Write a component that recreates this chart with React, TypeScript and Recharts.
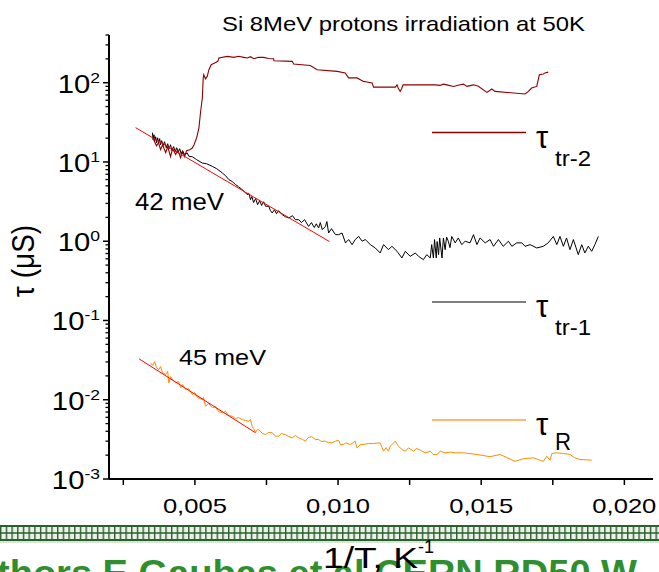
import React from 'react';
import { LineChart, Line, XAxis, YAxis } from 'recharts';

type Pair = [number, number];

// tau_tr-2 (dark red)
const tauTr2: Pair[] = [
  [0.00356, 19.1], [0.00366, 16.0], [0.00373, 17.5], [0.0038, 14.3], [0.00387, 16.5], [0.00398, 13.1],
  [0.00405, 15.6], [0.00415, 11.7], [0.00422, 14.7], [0.00433, 12.4], [0.0044, 14.3], [0.0045, 11.3],
  [0.00457, 13.5], [0.00464, 11.7], [0.00471, 13.9], [0.00482, 14.3], [0.00491, 15.0], [0.00497, 16.5],
  [0.00506, 20.1], [0.00514, 26.8], [0.0052, 43.4], [0.00526, 64.1], [0.00529, 114.6], [0.00531, 126],
  [0.00537, 112], [0.00543, 120], [0.00549, 146], [0.00557, 169], [0.00569, 177], [0.0058, 186],
  [0.00584, 205], [0.00613, 215], [0.00636, 209], [0.00652, 216], [0.00671, 209], [0.00683, 205],
  [0.00694, 213], [0.00706, 201], [0.00722, 210], [0.00741, 209], [0.00757, 202], [0.00775, 201],
  [0.00776, 189], [0.0084, 186], [0.00845, 172], [0.00903, 165], [0.00927, 146], [0.00997, 139],
  [0.01025, 133], [0.01037, 115], [0.01066, 115], [0.01089, 104], [0.01101, 102], [0.01119, 99],
  [0.01124, 88], [0.012, 88], [0.01206, 94], [0.0121, 86], [0.01217, 77.7], [0.01222, 84], [0.01227, 94],
  [0.01339, 94], [0.01357, 92.5], [0.01367, 95.8], [0.0138, 94], [0.01403, 89.8], [0.01419, 93],
  [0.01438, 96], [0.0145, 90], [0.01473, 94], [0.0149, 90], [0.0152, 75.5], [0.01537, 83.3],
  [0.01548, 77.7], [0.01653, 72.0], [0.01665, 77.7], [0.01676, 85.7], [0.01694, 89.8], [0.01703, 126],
  [0.01717, 129], [0.01723, 133], [0.01734, 136],
];

// tau_tr-1 (black)
const tauTr1: Pair[] = [
  [0.003515, 23.4], [0.00354, 19.1], [0.00357, 22.1], [0.0036, 18.6], [0.00363, 20.8], [0.00366, 17.5],
  [0.0037, 20.2], [0.00373, 17.0], [0.00377, 19.7], [0.0038, 16.5], [0.00384, 18.6], [0.00389, 16.1],
  [0.00394, 18.0], [0.004, 15.1], [0.00405, 17.0], [0.0041, 14.7], [0.00415, 16.5], [0.0042, 13.9],
  [0.00426, 15.6], [0.00431, 13.5], [0.00436, 15.1], [0.00441, 13.1], [0.00447, 14.7], [0.00452, 12.7],
  [0.00457, 13.9], [0.00464, 12.4], [0.00473, 13.0], [0.00479, 11.8], [0.00492, 11.6], [0.00506, 10.7],
  [0.00526, 9.7], [0.00541, 9.5], [0.00561, 8.79], [0.00576, 8.23], [0.00596, 7.26], [0.00607, 6.71],
  [0.00619, 5.98], [0.00631, 5.65], [0.00642, 5.18], [0.00652, 4.88], [0.00665, 4.48], [0.00673, 4.22],
  [0.00683, 3.87], [0.00689, 4.0], [0.00694, 3.35], [0.00699, 3.65], [0.00705, 3.07], [0.00712, 3.46],
  [0.00719, 2.89], [0.00726, 3.25], [0.00733, 2.83], [0.0074, 3.15], [0.00747, 2.76], [0.00758, 2.76],
  [0.00764, 2.43], [0.0077, 2.27], [0.00778, 2.5], [0.00785, 2.22], [0.00792, 2.43], [0.00805, 2.16],
  [0.00816, 2.04], [0.00828, 1.97], [0.00841, 2.1], [0.00851, 1.87], [0.00863, 1.87], [0.00872, 1.72],
  [0.00883, 1.87], [0.00897, 1.54], [0.00907, 1.72], [0.00917, 1.49], [0.00924, 1.66], [0.00932, 1.47],
  [0.00938, 1.72], [0.00945, 1.4], [0.00956, 1.54], [0.00961, 1.77], [0.00967, 1.27], [0.00977, 1.44],
  [0.00991, 1.21], [0.01002, 1.21], [0.01014, 1.27], [0.01026, 0.953], [0.01037, 1.05], [0.01049, 0.906],
  [0.0106, 1.05], [0.01072, 1.15], [0.01084, 1.0], [0.01095, 1.05], [0.01113, 0.906], [0.0113, 0.822],
  [0.01147, 0.711], [0.01159, 0.906], [0.01176, 0.783], [0.01188, 0.863], [0.01206, 0.746], [0.01223, 0.615],
  [0.01235, 0.746], [0.01252, 0.645], [0.0127, 0.711], [0.01281, 0.645], [0.01298, 0.586], [0.0131, 0.677],
  [0.01322, 0.615], [0.01327, 0.906], [0.01333, 0.615], [0.01337, 1.05], [0.01343, 0.615], [0.01346, 0.99],
  [0.01351, 0.677], [0.01355, 1.1], [0.01363, 0.615], [0.01368, 1.1], [0.01374, 0.783], [0.01379, 1.13],
  [0.01385, 1.0], [0.01391, 0.83], [0.01397, 1.15], [0.01409, 0.953], [0.0142, 1.1], [0.01432, 0.906],
  [0.01444, 1.0], [0.01461, 0.953], [0.01473, 1.21], [0.01485, 0.906], [0.01496, 1.1], [0.01514, 0.953],
  [0.01531, 1.05], [0.01543, 0.863], [0.0156, 1.05], [0.01577, 0.863], [0.01595, 1.0], [0.01607, 0.863],
  [0.01624, 0.953], [0.01642, 0.953], [0.01653, 0.863], [0.01671, 0.906], [0.01694, 0.822], [0.01717, 0.863],
  [0.01734, 0.953], [0.01752, 1.15], [0.01764, 0.906], [0.01775, 1.15], [0.01787, 0.863], [0.01798, 1.1],
  [0.0181, 0.783], [0.01822, 1.05], [0.01839, 0.677], [0.01851, 0.906], [0.01862, 0.711], [0.01874, 0.863],
  [0.01886, 0.746], [0.01897, 0.906], [0.01909, 1.15],
];

// tau_R (orange)
const tauR: Pair[] = [
  [0.003455, 0.0292], [0.00353, 0.027], [0.00359, 0.0303], [0.00366, 0.0255], [0.00374, 0.024], [0.0038, 0.0262],
  [0.00387, 0.022], [0.00398, 0.0208], [0.00405, 0.0227], [0.00409, 0.0163], [0.00415, 0.0196], [0.00422, 0.018],
  [0.00433, 0.0163], [0.00443, 0.017], [0.0045, 0.01426], [0.00457, 0.01555], [0.00468, 0.01345], [0.00478, 0.01384],
  [0.00491, 0.01163], [0.00499, 0.01233], [0.00509, 0.01066], [0.00526, 0.01007], [0.0053, 0.01066], [0.00537, 0.00828],
  [0.00548, 0.00895], [0.00561, 0.00791], [0.00572, 0.00821], [0.00583, 0.0071], [0.00596, 0.00684], [0.00607, 0.0071],
  [0.00618, 0.00632], [0.0063, 0.00619], [0.00642, 0.00579], [0.00652, 0.00597], [0.00665, 0.00562], [0.00677, 0.00547],
  [0.00688, 0.00535], [0.00694, 0.00562], [0.007, 0.00463], [0.00705, 0.00434], [0.00712, 0.00389], [0.00717, 0.00415],
  [0.00723, 0.00421], [0.00736, 0.00375], [0.00747, 0.00364], [0.00757, 0.00386], [0.0077, 0.00383], [0.00781, 0.00347],
  [0.00793, 0.00347], [0.00802, 0.00375], [0.00816, 0.00364], [0.00827, 0.00344], [0.0084, 0.00331], [0.00851, 0.00354],
  [0.00863, 0.00331], [0.00876, 0.00315], [0.00886, 0.003], [0.00896, 0.00334], [0.00909, 0.00341], [0.00921, 0.00315],
  [0.00932, 0.00315], [0.00942, 0.00297], [0.00956, 0.003], [0.00966, 0.00288], [0.00979, 0.00286], [0.00991, 0.003],
  [0.01002, 0.00308], [0.01008, 0.00272], [0.0102, 0.00272], [0.01026, 0.00286], [0.01043, 0.00272], [0.0106, 0.003],
  [0.01066, 0.00247], [0.01078, 0.00272], [0.01089, 0.00272], [0.01106, 0.00281], [0.01124, 0.00281], [0.01147, 0.00286],
  [0.01159, 0.00224], [0.01168, 0.00249], [0.01176, 0.00224], [0.01182, 0.00259], [0.012, 0.003], [0.01211, 0.00259],
  [0.01223, 0.00236], [0.01235, 0.00224], [0.01246, 0.00247], [0.01264, 0.00224], [0.01273, 0.00243], [0.01287, 0.00231],
  [0.01305, 0.00214], [0.01322, 0.00224], [0.01332, 0.00204], [0.01345, 0.00204], [0.01357, 0.00224], [0.01374, 0.00214],
  [0.01392, 0.00218], [0.01409, 0.00214], [0.01438, 0.00214], [0.01485, 0.00204], [0.01531, 0.00191], [0.01566, 0.00204],
  [0.01618, 0.00167], [0.01647, 0.0018], [0.01682, 0.00185], [0.01717, 0.00167], [0.01729, 0.00194], [0.0174, 0.00173],
  [0.01747, 0.0021], [0.01764, 0.00214], [0.01787, 0.0021], [0.0181, 0.00204], [0.01827, 0.00185], [0.01845, 0.00176],
  [0.01886, 0.00173],
];

// Arrhenius fits
const fit42: Pair[] = [[0.00293, 27.1], [0.0097, 0.99]];
const fit45: Pair[] = [[0.00305, 0.0328], [0.00712, 0.00383]];

const xTicks = [0.0025, 0.005, 0.0075, 0.01, 0.0125, 0.015, 0.0175, 0.02];
const xMajor = [0.005, 0.01, 0.015, 0.02];
const xMajorLabels = ['0,005', '0,010', '0,015', '0,020'];
const yDecades = [0.001, 0.01, 0.1, 1, 10, 100];
const yExponents = ['-3', '-2', '-1', '0', '1', '2'];
const yMax = 400;
const yTicks: number[] = [];
yDecades.forEach((d) => {
  for (let k = 1; k <= 9; k++) {
    const v = d * k;
    if (v <= yMax * 1.0001) yTicks.push(v);
  }
});

const toRows = (p: Pair[]) => p.map(([x, tau]) => ({ x, tau }));

const FONT = '"Liberation Sans", Arial, sans-serif';
const PLOT_LEFT = 109;
const PLOT_BOTTOM = 479;

const YTick = (props: any) => {
  const { y, payload } = props;
  const v = payload.value as number;
  const idx = yDecades.findIndex((d) => Math.abs(v / d - 1) < 1e-6);
  if (idx >= 0) {
    return (
      <g>
        <line x1={PLOT_LEFT - 6} x2={PLOT_LEFT} y1={y} y2={y} stroke="#000" strokeWidth={1.5} />
        <g transform={`translate(100,${y + 10}) scale(1.17,1)`}>
          <text x={0} y={0} textAnchor="end" fontFamily={FONT} fill="#000">
            <tspan fontSize={25}>10</tspan>
            <tspan fontSize={15} dy={-10}>{yExponents[idx]}</tspan>
          </text>
        </g>
      </g>
    );
  }
  return <line x1={PLOT_LEFT - 3.5} x2={PLOT_LEFT} y1={y} y2={y} stroke="#000" strokeWidth={1.3} />;
};

const XTick = (props: any) => {
  const { x, payload } = props;
  const v = payload.value as number;
  const idx = xMajor.findIndex((m) => Math.abs(v - m) < 1e-9);
  return (
    <g>
      <line x1={x} x2={x} y1={PLOT_BOTTOM} y2={PLOT_BOTTOM + 6} stroke="#000" strokeWidth={1.5} />
      {idx >= 0 && (
        <text x={x} y={513} textAnchor="middle" fontFamily={FONT} fontSize={21} fill="#000"
          textLength={64} lengthAdjust="spacingAndGlyphs">
          {xMajorLabels[idx]}
        </text>
      )}
    </g>
  );
};

const LegendItem = ({ y, color, sub, big }: { y: number; color: string; sub: string; big?: boolean }) => (
  <g>
    <line x1={432} x2={526} y1={y} y2={y} stroke={color} strokeWidth={1.3} />
    <text x={536} y={y + 15} fontFamily={FONT} fontSize={31} fill="#000">τ</text>
    <text x={555} y={y + (big ? 30 : 33)} fontFamily={FONT} fontSize={big ? 23 : 22} fill="#000"
      textLength={big ? 16 : 36} lengthAdjust="spacingAndGlyphs">{sub}</text>
  </g>
);

export default function App() {
  return (
    <div style={{ position: 'absolute', left: 0, top: 0, width: 659, height: 572, background: '#fff', overflow: 'hidden' }}>
      <LineChart width={659} height={572} margin={{ top: 35, right: 6, left: 0, bottom: 0 }}>
        <XAxis
          type="number"
          dataKey="x"
          domain={[0.002, 0.021]}
          allowDataOverflow
          ticks={xTicks}
          interval={0}
          height={93}
          tickLine={false}
          axisLine={{ stroke: '#000', strokeWidth: 2 }}
          tick={<XTick />}
        />
        <YAxis
          type="number"
          scale="log"
          domain={[0.001, yMax]}
          allowDataOverflow
          ticks={yTicks}
          interval={0}
          width={109}
          tickLine={false}
          axisLine={{ stroke: '#000', strokeWidth: 2 }}
          tick={<YTick />}
        />
        <Line data={toRows(tauTr1)} dataKey="tau" type="linear" stroke="#000" strokeWidth={1} dot={false} isAnimationActive={false} />
        <Line data={toRows(tauTr2)} dataKey="tau" type="linear" stroke="#8b0000" strokeWidth={1.1} dot={false} isAnimationActive={false} />
        <Line data={toRows(tauR)} dataKey="tau" type="linear" stroke="#ff8c00" strokeWidth={1} dot={false} isAnimationActive={false} />
        <Line data={toRows(fit42)} dataKey="tau" type="linear" stroke="#ff0000" strokeWidth={1} dot={false} isAnimationActive={false} />
        <Line data={toRows(fit45)} dataKey="tau" type="linear" stroke="#ff0000" strokeWidth={1} dot={false} isAnimationActive={false} />
      </LineChart>
      <svg width={659} height={572} style={{ position: 'absolute', left: 0, top: 0, pointerEvents: 'none' }}>
        <defs>
          <pattern id="greenGrid" x={0} y={525} width={5.7} height={16} patternUnits="userSpaceOnUse">
            <rect width={5.7} height={16} fill="#e9f2e9" />
            <line x1={0.7} x2={0.7} y1={0} y2={16} stroke="#2d5e2d" strokeWidth={1.4} />
          </pattern>
        </defs>
        <text x={222} y={31} fontFamily={FONT} fontSize={21} fill="#000" textLength={363} lengthAdjust="spacingAndGlyphs">
          Si 8MeV protons irradiation at 50K
        </text>
        <text x={135} y={210} fontFamily={FONT} fontSize={23} fill="#000" textLength={89} lengthAdjust="spacingAndGlyphs">42 meV</text>
        <text x={179} y={365} fontFamily={FONT} fontSize={22} fill="#000" textLength={87} lengthAdjust="spacingAndGlyphs">45 meV</text>
        <text transform="translate(34,261) scale(1.15,1) rotate(-90)" textAnchor="middle" fontFamily={FONT} fontSize={28} fill="#000">
          τ (μS)
        </text>
        <LegendItem y={132.5} color="#8b0000" sub="tr-2" />
        <LegendItem y={302} color="#555" sub="tr-1" />
        <LegendItem y={420} color="#ffa040" sub="R" big />
        <rect x={0} y={525} width={659} height={16} fill="url(#greenGrid)" />
        <line x1={0} x2={659} y1={526} y2={526} stroke="#2d5e2d" strokeWidth={2} />
        <line x1={0} x2={659} y1={533} y2={533} stroke="#2d5e2d" strokeWidth={1.5} />
        <line x1={0} x2={659} y1={540} y2={540} stroke="#2d5e2d" strokeWidth={2} />
        <line x1={0} x2={659} y1={542} y2={542} stroke="#a9cfa9" strokeWidth={1} />
        <text x={-3} y={586} fontFamily={FONT} fontSize={36} fontWeight="bold" fill="#2f8f2f" textLength={640} lengthAdjust="spacingAndGlyphs">
          thors E.Gaubas et al CERN RD50 W
        </text>
        <text x={323} y={568} fontFamily={FONT} fontSize={29} fill="#000" textLength={95} lengthAdjust="spacingAndGlyphs">1/T, K</text>
        <text x={418} y={553} fontFamily={FONT} fontSize={18} fill="#000">-1</text>
      </svg>
    </div>
  );
}
